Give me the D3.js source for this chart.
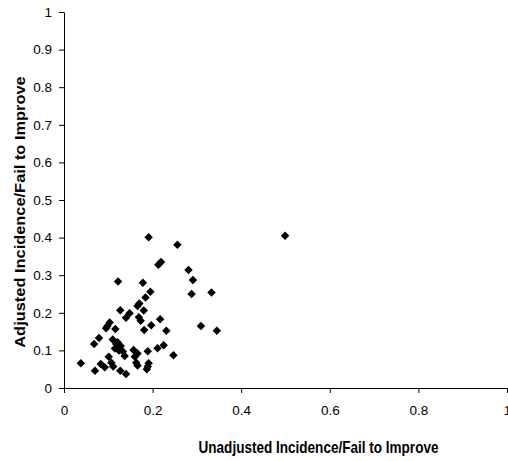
<!DOCTYPE html>
<html>
<head>
<meta charset="utf-8">
<script src="https://cdn.jsdelivr.net/npm/d3@7"></script>
<style>
  html, body { margin: 0; padding: 0; background: #fff; }
  svg { display: block; }
</style>
</head>
<body>
<svg id="chart" width="508" height="461"></svg>
<script>
// Data
const xValues = [0.191, 0.256, 0.213, 0.219, 0.281, 0.291, 0.122, 0.178, 0.288, 0.333,
  0.195, 0.184, 0.170, 0.166, 0.127, 0.180, 0.148, 0.140, 0.169, 0.173,
  0.217, 0.103, 0.095, 0.116, 0.181, 0.197, 0.231, 0.309, 0.345, 0.079,
  0.068, 0.110, 0.118, 0.128, 0.115, 0.133, 0.157, 0.166, 0.189, 0.211,
  0.225, 0.247, 0.038, 0.070, 0.083, 0.092, 0.101, 0.107, 0.111, 0.127,
  0.140, 0.160, 0.163, 0.166, 0.189, 0.191, 0.187, 0.137, 0.124, 0.499,
  0.098, 0.121];
const yValues = [0.401, 0.381, 0.328, 0.335, 0.314, 0.287, 0.283, 0.280, 0.250, 0.254,
  0.256, 0.241, 0.225, 0.218, 0.207, 0.206, 0.199, 0.187, 0.188, 0.179,
  0.183, 0.174, 0.159, 0.157, 0.154, 0.167, 0.152, 0.165, 0.152, 0.133,
  0.117, 0.129, 0.117, 0.112, 0.105, 0.097, 0.101, 0.092, 0.098, 0.106,
  0.114, 0.087, 0.066, 0.046, 0.064, 0.055, 0.083, 0.067, 0.057, 0.046,
  0.037, 0.083, 0.067, 0.060, 0.057, 0.066, 0.050, 0.085, 0.100, 0.405,
  0.165, 0.122];
const xTicks = [0, 0.2, 0.4, 0.6, 0.8, 1];
const yTicks = [0, 0.1, 0.2, 0.3, 0.4, 0.5, 0.6, 0.7, 0.8, 0.9, 1];
const xTitle = "Unadjusted Incidence/Fail to Improve";
const yTitle = "Adjusted Incidence/Fail to Improve";

const svg = d3.select("#chart");
const plotLeft = 64, plotRight = 507, plotTop = 12, plotBottom = 388;

const x = d3.scaleLinear().domain([0, 1]).range([plotLeft, plotRight]);
const y = d3.scaleLinear().domain([0, 1]).range([plotBottom, plotTop]);
const fmt = d => d3.format("~g")(d);

const font = "'Liberation Sans', Arial, sans-serif";

const xAxis = svg.append("g")
  .attr("transform", `translate(0,${plotBottom})`)
  .call(d3.axisBottom(x).tickValues(xTicks).tickFormat(fmt).tickSize(5).tickPadding(12).tickSizeOuter(0));
const yAxis = svg.append("g")
  .attr("transform", `translate(${plotLeft},0)`)
  .call(d3.axisLeft(y).tickValues(yTicks).tickFormat(fmt).tickSize(5).tickPadding(7).tickSizeOuter(0));

[xAxis, yAxis].forEach(g => {
  g.select(".domain").attr("stroke", "#000").attr("stroke-width", 1);
  g.selectAll(".tick line").attr("stroke", "#000");
  g.selectAll(".tick text")
    .attr("fill", "#000")
    .style("font-family", font)
    .style("font-size", "13.5px");
});

const pts = xValues.map((v, i) => ({ x: v, y: yValues[i] }));
svg.append("g").selectAll("path")
  .data(pts)
  .join("path")
  .attr("transform", d => `translate(${x(d.x)},${y(d.y)})`)
  .attr("d", d3.symbol(d3.symbolDiamond2, 46)())
  .attr("fill", "#000");

svg.append("text")
  .attr("transform", "translate(318.5,453) scale(0.806,1)")
  .attr("text-anchor", "middle")
  .style("font-family", font)
  .style("font-size", "16.8px")
  .style("font-weight", "bold")
  .text(xTitle);

svg.append("text")
  .attr("transform", "translate(25,212) scale(0.9,1) rotate(-90)")
  .attr("text-anchor", "middle")
  .style("font-family", font)
  .style("font-size", "16.4px")
  .style("font-weight", "bold")
  .text(yTitle);
</script>
</body>
</html>
